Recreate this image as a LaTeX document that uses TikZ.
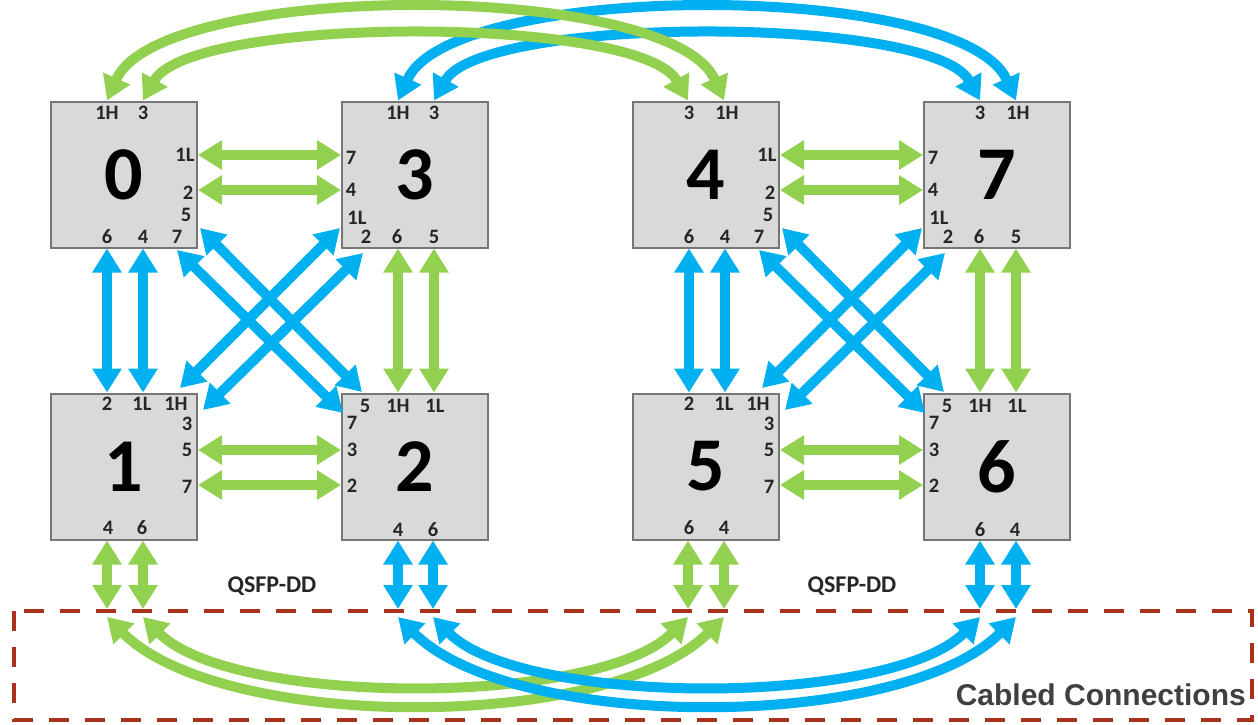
\documentclass[tikz,border=0pt]{standalone}
\usepackage{fontspec}
\setmainfont{Carlito}
\newfontfamily\arialfont{Liberation Sans}
\usetikzlibrary{arrows.meta,calc}
\definecolor{cgreen}{RGB}{146,208,80}
\definecolor{cblue}{RGB}{0,176,240}
\definecolor{cbox}{RGB}{217,217,217}
\definecolor{cedge}{RGB}{118,118,118}
\definecolor{cdash}{RGB}{168,50,26}
\definecolor{ctext}{RGB}{38,38,38}
\definecolor{ccable}{RGB}{64,64,64}
\begin{document}
\begin{tikzpicture}[x=1pt,y=-1pt,
  box/.style={draw=cedge, fill=cbox, line width=2pt, minimum width=146pt, minimum height=146pt, inner sep=0pt, font=\fontsize{76}{76}\selectfont\bfseries},
  lbl/.style={inner sep=0pt, text=ctext, font=\fontsize{20.5}{20.5}\selectfont\bfseries},
  conn/.style={line width=10pt, {Triangle[width=28pt,length=24pt]}-{Triangle[width=28pt,length=24pt]}},
  gconn/.style={conn, draw=cgreen},
  bconn/.style={conn, draw=cblue},
  qsfp/.style={inner sep=0pt, text=ctext, font=\fontsize{24}{24}\selectfont\bfseries},
  cabledash/.style={draw=cdash, line width=4.5pt, dash pattern=on 20pt off 16pt}
]
\useasboundingbox[fill=white] (0,0) rectangle (1258,724);

% boxes
\node[box] (b0) at (124,174.5) {0};
\node[box] (b3) at (415,174.5) {3};
\node[box] (b1) at (124,466.5) {1};
\node[box] (b2) at (415,466.5) {2};
\node[box] (b4) at (706,174.5) {4};
\node[box] (b7) at (997,174.5) {7};
\node[box] (b5) at (706,466.5) {5};
\node[box] (b6) at (997,466.5) {6};

% top cables (blue first, green over)
\draw[bconn] ($(b3.north)+(-17,0)$) .. controls (452,-20) and (962,-20) .. ($(b7.north)+(19,0)$);
\draw[bconn] ($(b3.north)+(19,0)$) .. controls (482,15) and (933,15) .. ($(b7.north)+(-17,0)$);
\draw[gconn] ($(b0.north)+(-17,0)$) .. controls (160,-20) and (671,-20) .. ($(b4.north)+(18,0)$);
\draw[gconn] ($(b0.north)+(19,0)$) .. controls (191,15) and (640,15) .. ($(b4.north)+(-18,0)$);

% left group
\draw[gconn] ($(b0.east)+(0,-19.5)$) -- ($(b3.west)+(0,-19.5)$);
\draw[gconn] ($(b0.east)+(0,15.5)$) -- ($(b3.west)+(0,15.5)$);
\draw[gconn] ($(b1.east)+(0,-16.5)$) -- ($(b2.west)+(0,-16.5)$);
\draw[gconn] ($(b1.east)+(0,18.5)$) -- ($(b2.west)+(0,18.5)$);
\draw[bconn] ($(b0.south)+(-17,0)$) -- ($(b1.north)+(-17,0)$);
\draw[bconn] ($(b0.south)+(19,0)$) -- ($(b1.north)+(19,0)$);
\draw[gconn] ($(b3.south)+(-17,0)$) -- ($(b2.north)+(-17,0)$);
\draw[gconn] ($(b3.south)+(19,0)$) -- ($(b2.north)+(19,0)$);
\draw[bconn] ($(b0.center)+(76,53.5)$) -- ($(b2.center)+(-53,-74.5)$);
\draw[bconn] ($(b0.center)+(53,75.5)$) -- ($(b2.center)+(-72,-53.5)$);
\draw[bconn] ($(b3.center)+(-75,53.5)$) -- ($(b1.center)+(56,-78.5)$);
\draw[bconn] ($(b3.center)+(-52,78.5)$) -- ($(b1.center)+(79,-56.5)$);

% right group
\draw[gconn] ($(b4.east)+(0,-19.5)$) -- ($(b7.west)+(0,-19.5)$);
\draw[gconn] ($(b4.east)+(0,15.5)$) -- ($(b7.west)+(0,15.5)$);
\draw[gconn] ($(b5.east)+(0,-16.5)$) -- ($(b6.west)+(0,-16.5)$);
\draw[gconn] ($(b5.east)+(0,18.5)$) -- ($(b6.west)+(0,18.5)$);
\draw[bconn] ($(b4.south)+(-17,0)$) -- ($(b5.north)+(-17,0)$);
\draw[bconn] ($(b4.south)+(19,0)$) -- ($(b5.north)+(19,0)$);
\draw[gconn] ($(b7.south)+(-17,0)$) -- ($(b6.north)+(-17,0)$);
\draw[gconn] ($(b7.south)+(19,0)$) -- ($(b6.north)+(19,0)$);
\draw[bconn] ($(b4.center)+(76,53.5)$) -- ($(b6.center)+(-53,-74.5)$);
\draw[bconn] ($(b4.center)+(53,75.5)$) -- ($(b6.center)+(-72,-53.5)$);
\draw[bconn] ($(b7.center)+(-75,53.5)$) -- ($(b5.center)+(56,-78.5)$);
\draw[bconn] ($(b7.center)+(-52,78.5)$) -- ($(b5.center)+(79,-56.5)$);

% short QSFP-DD arrows
\coordinate (q1a) at (107,609); \coordinate (q1b) at (143,609);
\coordinate (q2a) at (398,609); \coordinate (q2b) at (433,609);
\coordinate (q5a) at (688,609); \coordinate (q5b) at (724,609);
\coordinate (q6a) at (980,609); \coordinate (q6b) at (1016,609);
\draw[gconn] ($(b1.south)+(-17,0)$) -- (q1a);
\draw[gconn] ($(b1.south)+(19,0)$) -- (q1b);
\draw[bconn] ($(b2.south)+(-17,0)$) -- (q2a);
\draw[bconn] ($(b2.south)+(18,0)$) -- (q2b);
\draw[gconn] ($(b5.south)+(-18,0)$) -- (q5a);
\draw[gconn] ($(b5.south)+(18,0)$) -- (q5b);
\draw[bconn] ($(b6.south)+(-17,0)$) -- (q6a);
\draw[bconn] ($(b6.south)+(19,0)$) -- (q6b);

% bottom cables
\coordinate (c1a) at (107,617); \coordinate (c1b) at (143,617);
\coordinate (c2a) at (398,617); \coordinate (c2b) at (433,617);
\coordinate (c5a) at (688,617); \coordinate (c5b) at (724,617);
\coordinate (c6a) at (980,617); \coordinate (c6b) at (1016,617);
\draw[gconn] (c1a) .. controls (222,732) and (609,732) .. (c5b);
\draw[gconn] (c1b) .. controls (233,707) and (598,707) .. (c5a);
\draw[bconn] (c2a) .. controls (513,732) and (901,732) .. (c6b);
\draw[bconn] (c2b) .. controls (523,707) and (890,707) .. (c6a);

% dashed region
\draw[cabledash] (14,611) rectangle (1252,720);
\node[inner sep=0pt, anchor=east, text=ccable, font=\arialfont\fontsize{30}{30}\selectfont\bfseries] (cab) at (1246,695) {Cabled Connections};
\node[qsfp] (qs1) at (272,586) {QSFP-DD};
\node[qsfp] (qs2) at (852,586) {QSFP-DD};

% port labels box 0
\begin{scope}[shift={(124,174.5)}]
\node[lbl] (l0a) at (-17,-61.5) {1H};
\node[lbl] (l0b) at (19,-61.5) {3};
\node[lbl] (l0c) at (61,-19.5) {1L};
\node[lbl] (l0d) at (64,18.5) {2};
\node[lbl] (l0e) at (62,40.5) {5};
\node[lbl] (l0f) at (-17,62.5) {6};
\node[lbl] (l0g) at (19,62.5) {4};
\node[lbl] (l0h) at (53,62.5) {7};
\end{scope}
% box 4
\begin{scope}[shift={(706,174.5)}]
\node[lbl] (l4a) at (-17,-61.5) {3};
\node[lbl] (l4b) at (21,-61.5) {1H};
\node[lbl] (l4c) at (61,-19.5) {1L};
\node[lbl] (l4d) at (64,18.5) {2};
\node[lbl] (l4e) at (62,40.5) {5};
\node[lbl] (l4f) at (-17,62.5) {6};
\node[lbl] (l4g) at (19,62.5) {4};
\node[lbl] (l4h) at (53,62.5) {7};
\end{scope}
% box 3
\begin{scope}[shift={(415,174.5)}]
\node[lbl] (l3a) at (-17,-61.5) {1H};
\node[lbl] (l3b) at (19,-61.5) {3};
\node[lbl] (l3c) at (-64,-16.5) {7};
\node[lbl] (l3d) at (-64,15.5) {4};
\node[lbl] (l3e) at (-58,43.5) {1L};
\node[lbl] (l3f) at (-49,62.5) {2};
\node[lbl] (l3g) at (-18,62.5) {6};
\node[lbl] (l3h) at (19,62.5) {5};
\end{scope}
% box 7
\begin{scope}[shift={(997,174.5)}]
\node[lbl] (l7a) at (-17,-61.5) {3};
\node[lbl] (l7b) at (21,-61.5) {1H};
\node[lbl] (l7c) at (-64,-16.5) {7};
\node[lbl] (l7d) at (-64,15.5) {4};
\node[lbl] (l7e) at (-58,43.5) {1L};
\node[lbl] (l7f) at (-49,62.5) {2};
\node[lbl] (l7g) at (-18,62.5) {6};
\node[lbl] (l7h) at (19,62.5) {5};
\end{scope}
% box 1
\begin{scope}[shift={(124,466.5)}]
\node[lbl] (l1a) at (-17,-62.5) {2};
\node[lbl] (l1b) at (18,-62.5) {1L};
\node[lbl] (l1c) at (52,-62.5) {1H};
\node[lbl] (l1d) at (63,-42.5) {3};
\node[lbl] (l1e) at (63,-16.5) {5};
\node[lbl] (l1f) at (63,20.5) {7};
\node[lbl] (l1g) at (-16,61.5) {4};
\node[lbl] (l1h) at (18,61.5) {6};
\end{scope}
% box 5
\begin{scope}[shift={(706,466.5)}]
\node[lbl] (l5a) at (-17,-62.5) {2};
\node[lbl] (l5b) at (18,-62.5) {1L};
\node[lbl] (l5c) at (52,-62.5) {1H};
\node[lbl] (l5d) at (63,-42.5) {3};
\node[lbl] (l5e) at (63,-16.5) {5};
\node[lbl] (l5f) at (63,20.5) {7};
\node[lbl] (l5g) at (-17,61.5) {6};
\node[lbl] (l5h) at (18,61.5) {4};
\end{scope}
% box 2
\begin{scope}[shift={(415,466.5)}]
\node[lbl] (l2a) at (-50,-60.5) {5};
\node[lbl] (l2b) at (-17,-60.5) {1H};
\node[lbl] (l2c) at (20,-60.5) {1L};
\node[lbl] (l2d) at (-63,-43.5) {7};
\node[lbl] (l2e) at (-63,-16.5) {3};
\node[lbl] (l2f) at (-63,19.5) {2};
\node[lbl] (l2g) at (-17,63.5) {4};
\node[lbl] (l2h) at (18,63.5) {6};
\end{scope}
% box 6
\begin{scope}[shift={(997,466.5)}]
\node[lbl] (l6a) at (-50,-60.5) {5};
\node[lbl] (l6b) at (-17,-60.5) {1H};
\node[lbl] (l6c) at (20,-60.5) {1L};
\node[lbl] (l6d) at (-63,-43.5) {7};
\node[lbl] (l6e) at (-63,-16.5) {3};
\node[lbl] (l6f) at (-63,19.5) {2};
\node[lbl] (l6g) at (-17,63.5) {6};
\node[lbl] (l6h) at (18,63.5) {4};
\end{scope}
\end{tikzpicture}
\end{document}
